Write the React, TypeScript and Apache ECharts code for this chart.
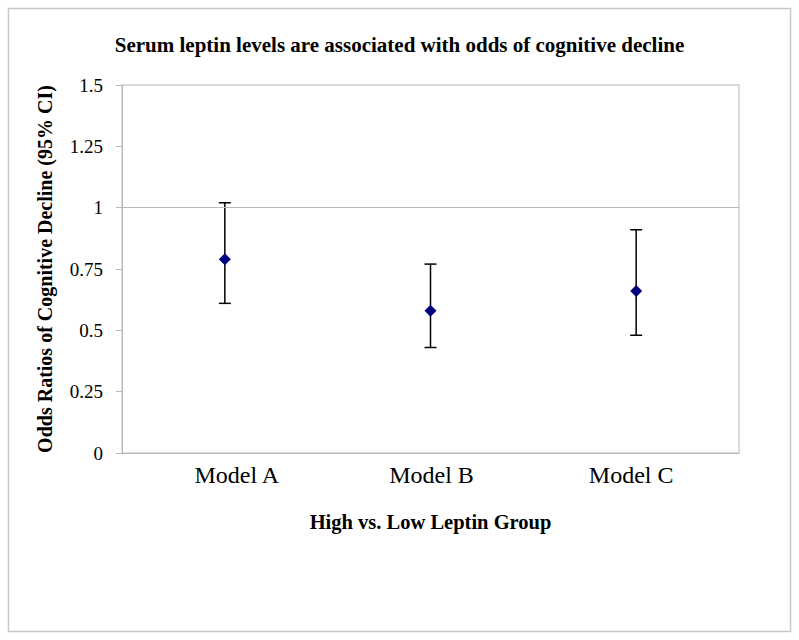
import React, { useEffect, useRef } from "react";
import * as echarts from "echarts";

const titleText = "Serum leptin levels are associated with odds of cognitive decline";
const xTitle = "High vs. Low Leptin Group";
const yTitle = "Odds Ratios of Cognitive Decline (95% CI)";
const categories = ["Model A", "Model B", "Model C"];
const oddsRatio = [0.79, 0.58, 0.66];
const ciLower = [0.61, 0.43, 0.48];
const ciUpper = [1.02, 0.77, 0.91];
const yMin = 0;
const yMax = 1.5;
const yStep = 0.25;
const refLine = 1;

const FONT = "'Liberation Serif', 'Times New Roman', serif";

export default function App() {
  const ref = useRef<HTMLDivElement>(null);
  useEffect(() => {
    document.body.style.margin = "0";
    const chart = echarts.init(ref.current!, null, { renderer: "svg" });
    const errData = categories.map((c, i) => [i, ciLower[i], ciUpper[i]]);
    const labelStyle = { fontFamily: FONT, fontSize: 24, color: "#000" };
    chart.setOption({
      animation: false,
      backgroundColor: "#ffffff",
      textStyle: { fontFamily: FONT },
      title: {
        text: titleText,
        left: "center",
        top: 29,
        textStyle: { fontFamily: FONT, fontSize: 21, fontWeight: "bold", color: "#000" },
      },
      graphic: [
        {
          type: "rect",
          shape: { x: 8.5, y: 8.5, width: 782, height: 623 },
          style: { fill: "none", stroke: "#c8c8c8", lineWidth: 1.5 },
          silent: true,
        },
      ],
      grid: {
        left: 122,
        top: 85,
        right: 60,
        bottom: 187,
        show: true,
        borderColor: "#b8b8b8",
        borderWidth: 1,
        containLabel: false,
      },
      xAxis: {
        type: "category",
        data: categories,
        boundaryGap: true,
        name: xTitle,
        nameLocation: "middle",
        nameGap: 58,
        nameTextStyle: { fontFamily: FONT, fontSize: 20.5, fontWeight: "bold", color: "#000" },
        axisLine: { show: true, lineStyle: { color: "#b8b8b8" } },
        axisTick: { show: false },
        axisLabel: {
          fontFamily: FONT,
          fontSize: 24,
          color: "#000",
          margin: 10,
          formatter: (v: string, i: number) => `{c${i}|${v}}`,
          rich: {
            c0: { ...labelStyle, padding: [0, 0, 0, 24] },
            c1: { ...labelStyle, padding: [0, 0, 0, 2] },
            c2: { ...labelStyle, padding: [0, 10, 0, 0] },
          },
        },
        splitLine: { show: false },
      },
      yAxis: {
        type: "value",
        min: yMin,
        max: yMax,
        interval: yStep,
        name: yTitle,
        nameLocation: "middle",
        nameGap: 67,
        nameRotate: 90,
        nameTextStyle: { fontFamily: FONT, fontSize: 20, fontWeight: "bold", color: "#000" },
        axisLine: { show: true, lineStyle: { color: "#b8b8b8" } },
        axisTick: { show: true, length: 6, lineStyle: { color: "#b8b8b8" } },
        axisLabel: {
          fontFamily: FONT,
          fontSize: 19,
          color: "#000",
          margin: 19,
          formatter: (v: number) => String(v),
        },
        splitLine: { show: false },
      },
      series: [
        {
          type: "custom",
          data: errData,
          z: 2,
          renderItem: (params: any, api: any) => {
            const x = api.value(0);
            const lo = api.coord([x, api.value(1)]);
            const hi = api.coord([x, api.value(2)]);
            const hw = 6;
            const style = { stroke: "#000", lineWidth: 1.5, fill: "none" };
            return {
              type: "group",
              children: [
                { type: "line", shape: { x1: lo[0], y1: lo[1], x2: hi[0], y2: hi[1] }, style },
                { type: "line", shape: { x1: hi[0] - hw, y1: hi[1], x2: hi[0] + hw, y2: hi[1] }, style },
                { type: "line", shape: { x1: lo[0] - hw, y1: lo[1], x2: lo[0] + hw, y2: lo[1] }, style },
              ],
            };
          },
        },
        {
          type: "scatter",
          data: oddsRatio,
          symbol: "diamond",
          symbolSize: 12,
          z: 3,
          itemStyle: { color: "#000080", opacity: 1 },
          markLine: {
            silent: true,
            symbol: "none",
            label: { show: false },
            lineStyle: { color: "#b8b8b8", type: "solid", width: 1 },
            data: [{ yAxis: refLine }],
          },
        },
      ],
    });
    return () => chart.dispose();
  }, []);
  return <div ref={ref} style={{ width: 799, height: 640 }} />;
}
